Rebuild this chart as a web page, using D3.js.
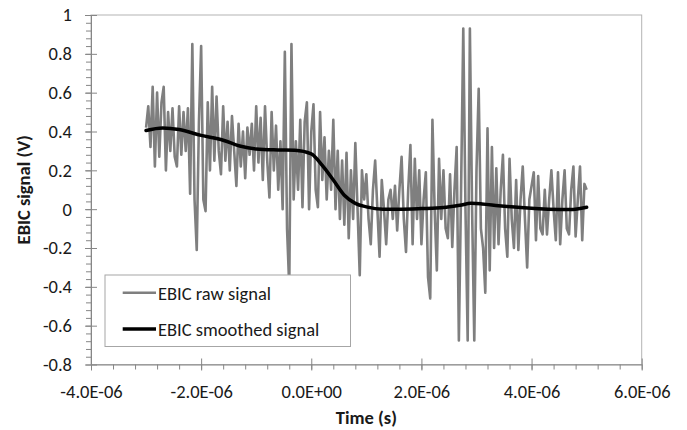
<!DOCTYPE html>
<html>
<head>
<meta charset="utf-8">
<script src="https://cdn.jsdelivr.net/npm/d3@7.9.0/dist/d3.min.js"></script>
<style>
  body { margin: 0; background: #fff; }
  svg text { font-family: Calibri, Carlito, Lato, sans-serif; fill: #1a1a1a; }
</style>
</head>
<body>
<svg id="chart" width="687" height="430"></svg>
<script>
// raw EBIC signal, sampled every 0.04 us starting at -3.0 us
const rawStart = -3.0;
const rawStep = 0.04;
const rawSignal = [
  0.42, 0.53, 0.32, 0.63, 0.22, 0.60, 0.27, 0.55, 0.63, 0.20,
  0.50, 0.30, 0.52, 0.27, 0.22, 0.53, 0.28, 0.50, 0.30, 0.52,
  0.08, 0.85, 0.05, -0.21, 0.45, 0.84, 0.05, -0.01, 0.55, 0.20,
  0.63, 0.25, 0.58, 0.30, 0.18, 0.53, 0.25, 0.45, 0.20, 0.48,
  0.30, 0.12, 0.44, 0.22, 0.40, 0.16, 0.42, 0.28, 0.44, 0.20,
  0.53, 0.24, 0.47, 0.15, 0.53, 0.25, 0.06, 0.50, 0.20, 0.43,
  0.10, 0.35, 0.00, 0.81, -0.10, -0.40, 0.85, 0.05, 0.35, 0.10,
  0.46, 0.01, 0.45, 0.55, 0.00, 0.40, 0.54, 0.10, 0.01, 0.50,
  0.15, 0.37, 0.05, 0.30, 0.10, 0.46, 0.00, 0.30, -0.05, 0.25,
  -0.08, 0.29, -0.15, 0.20, -0.05, 0.34, 0.00, -0.34, 0.20, 0.05,
  0.18, -0.05, -0.18, 0.10, 0.25, 0.00, -0.245, 0.15, 0.00, -0.18,
  0.05, 0.10, -0.05, 0.12, -0.11, 0.10, 0.27, -0.05, -0.22, 0.10,
  0.33, -0.18, 0.26, -0.05, 0.20, -0.18, 0.05, 0.19, -0.35, -0.46,
  0.46, 0.00, -0.315, 0.26, -0.05, 0.20, -0.10, -0.15, 0.18, -0.195,
  0.10, 0.32, -0.676, 0.10, 0.93, 0.00, -0.676, 0.93, 0.00, -0.676,
  0.20, 0.62, -0.10, -0.20, -0.43, 0.416, -0.315, 0.32, -0.20, 0.21,
  -0.18, 0.10, 0.28, -0.10, -0.245, 0.26, -0.05, -0.20, 0.15, -0.21,
  0.05, 0.22, -0.05, -0.30, 0.05, 0.12, 0.19, -0.16, 0.17, -0.10,
  -0.13, 0.10, -0.13, 0.05, 0.20, 0.00, -0.16, 0.19, -0.18, 0.05,
  0.20, -0.10, -0.13, 0.10, 0.22, -0.14, 0.05, 0.22, -0.16, 0.13,
  0.10
];

// smoothed signal (time in us)
const smoothTime = [-3.0, -2.7, -2.4, -2.0, -1.6, -1.3, -1.0, -0.6, -0.3, 0.0, 0.2, 0.4, 0.6, 0.8, 1.0, 1.3, 1.6, 2.0, 2.4, 2.7, 2.9, 3.1, 3.4, 3.8, 4.3, 4.7, 5.0];
const smoothSignal = [0.405, 0.418, 0.41, 0.38, 0.355, 0.325, 0.31, 0.305, 0.303, 0.285, 0.225, 0.15, 0.072, 0.03, 0.012, 0.0, 0.0, 0.003, 0.008, 0.02, 0.03, 0.027, 0.018, 0.008, 0.0, -0.002, 0.01];

const xTicks = [-4e-6, -2e-6, 0, 2e-6, 4e-6, 6e-6];
const yTicks = [-0.8, -0.6, -0.4, -0.2, 0, 0.2, 0.4, 0.6, 0.8, 1];

const seriesNames = ['EBIC raw signal', 'EBIC smoothed signal'];
const seriesColors = ['#7f7f7f', '#000000'];

const svg = d3.select('#chart');
const plotLeft = 91, plotRight = 641.7, plotTop = 15, plotBottom = 364.5;
const fontSize = '18.5px';
const axisColor = '#868686';

const x = d3.scaleLinear().domain([-4e-6, 6e-6]).range([plotLeft, plotRight]);
const y = d3.scaleLinear().domain([-0.8, 1]).range([plotBottom, plotTop]);

// Excel style 0.0E+00
const sciFormat = d => {
  const [m, e] = d.toExponential(1).split('e');
  const sign = e[0] === '-' ? '-' : '+';
  const digits = e.replace(/[+-]/, '').padStart(2, '0');
  return m + 'E' + sign + digits;
};

// plot area border
svg.append('rect')
  .attr('x', plotLeft).attr('y', plotTop)
  .attr('width', plotRight - plotLeft).attr('height', plotBottom - plotTop)
  .attr('fill', 'none')
  .attr('stroke', '#b3b3b3')
  .attr('stroke-width', 1);

// minor ticks
const xMinor = d3.range(-4e-6, 6.01e-6, 0.4e-6);
const yMinor = d3.range(-0.8, 1.001, 0.04);

svg.append('g')
  .attr('transform', `translate(0,${plotBottom})`)
  .call(d3.axisBottom(x).tickValues(xMinor).tickSize(5).tickFormat(''))
  .call(g => g.select('.domain').remove())
  .call(g => g.selectAll('line').attr('stroke', axisColor));

svg.append('g')
  .attr('transform', `translate(${plotLeft},0)`)
  .call(d3.axisLeft(y).tickValues(yMinor).tickSize(5).tickFormat(''))
  .call(g => g.select('.domain').remove())
  .call(g => g.selectAll('line').attr('stroke', axisColor));

// major axes
svg.append('g')
  .attr('transform', `translate(0,${plotBottom})`)
  .call(d3.axisBottom(x).tickValues(xTicks).tickSizeInner(6).tickSizeOuter(0).tickPadding(14).tickFormat(sciFormat))
  .call(g => g.select('.domain').attr('stroke', axisColor))
  .call(g => g.selectAll('.tick line').attr('y1', -6).attr('y2', 6).attr('stroke', axisColor))
  .call(g => g.selectAll('text').attr('font-size', fontSize));

svg.append('g')
  .attr('transform', `translate(${plotLeft},0)`)
  .call(d3.axisLeft(y).tickValues(yTicks).tickSizeInner(6).tickSizeOuter(0).tickPadding(13)
    .tickFormat(d => String(+d.toFixed(1))))
  .call(g => g.select('.domain').attr('stroke', axisColor))
  .call(g => g.selectAll('.tick line').attr('x1', -6).attr('x2', 6).attr('stroke', axisColor))
  .call(g => g.selectAll('text').attr('font-size', fontSize));

svg.selectAll('g').attr('font-family', null);

// raw signal
const rawData = rawSignal.map((v, i) => [(rawStart + i * rawStep) * 1e-6, v]);
svg.append('path')
  .datum(rawData)
  .attr('fill', 'none')
  .attr('stroke', seriesColors[0])
  .attr('stroke-width', 2.6)
  .attr('stroke-linejoin', 'round')
  .attr('d', d3.line().x(d => x(d[0])).y(d => y(d[1])));

// smoothed signal
const smoothData = smoothTime.map((t, i) => [t * 1e-6, smoothSignal[i]]);
svg.append('path')
  .datum(smoothData)
  .attr('fill', 'none')
  .attr('stroke', seriesColors[1])
  .attr('stroke-width', 3.5)
  .attr('stroke-linecap', 'round')
  .attr('d', d3.line().curve(d3.curveMonotoneX).x(d => x(d[0])).y(d => y(d[1])));

// axis titles
svg.append('text')
  .attr('x', (plotLeft + plotRight) / 2)
  .attr('y', 424)
  .attr('text-anchor', 'middle')
  .attr('font-size', fontSize)
  .attr('font-weight', 'bold')
  .text('Time (s)');

svg.append('text')
  .attr('transform', `translate(30,${(plotTop + plotBottom) / 2}) rotate(-90)`)
  .attr('text-anchor', 'middle')
  .attr('font-size', fontSize)
  .attr('font-weight', 'bold')
  .text('EBIC signal (V)');

// legend
const legend = svg.append('g');
legend.append('rect')
  .attr('x', 105).attr('y', 275)
  .attr('width', 245.5).attr('height', 71.5)
  .attr('fill', '#fff')
  .attr('stroke', '#a6a6a6')
  .attr('stroke-width', 1);

const rowY = [292.7, 329];
const rowWidth = [2.6, 3.5];
seriesNames.forEach((name, i) => {
  legend.append('line')
    .attr('x1', 122.7).attr('x2', 156)
    .attr('y1', rowY[i]).attr('y2', rowY[i])
    .attr('stroke', seriesColors[i])
    .attr('stroke-width', rowWidth[i]);
  legend.append('text')
    .attr('x', 158)
    .attr('y', rowY[i] + 7)
    .attr('font-size', fontSize)
    .text(name);
});
</script>
</body>
</html>
